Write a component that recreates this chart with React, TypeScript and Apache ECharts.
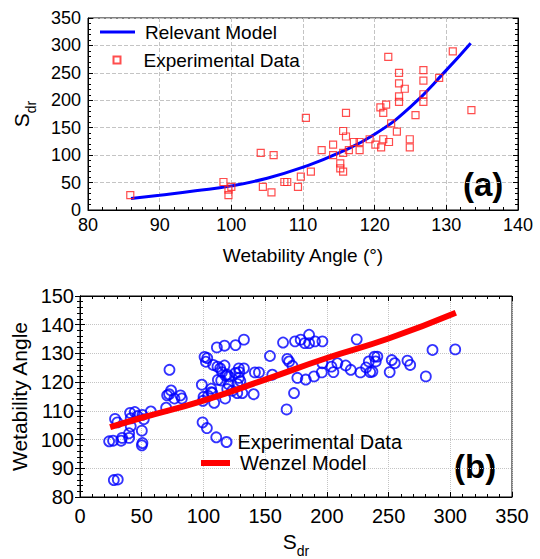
import React, { useEffect, useRef } from "react";
import * as echarts from "echarts";

const FONT = "'Liberation Sans', Arial, Helvetica, sans-serif";

// ---- Chart (a): Sdr vs wetability angle ----
const expA: [number, number][] = [
  [85.9, 27], [98.9, 51], [99.6, 37], [99.6, 27], [100.0, 42], [104.1, 104], [104.4, 42],
  [105.6, 32], [105.9, 100], [107.4, 51], [107.8, 51], [109.3, 42], [109.7, 61], [110.4, 168],
  [111.1, 70], [112.6, 109], [114.2, 119], [114.2, 100], [115.2, 85], [115.2, 76], [115.6, 70],
  [115.6, 104], [115.6, 144], [116.0, 134], [116.0, 177], [116.4, 109], [117.1, 124], [117.9, 124],
  [117.9, 109], [119.3, 129], [120.1, 119], [120.9, 114], [121.2, 129], [122.0, 124], [120.8, 187],
  [121.2, 177], [121.6, 192], [121.9, 279], [122.3, 158], [123.1, 143], [123.4, 250], [123.4, 231],
  [124.2, 221], [123.4, 207], [123.4, 197], [124.9, 129], [124.9, 114], [125.7, 173], [126.8, 255],
  [126.8, 236], [126.8, 211], [126.8, 197], [129.0, 241], [130.9, 289], [133.5, 182],
];
const modelAngle = [86, 90, 95, 100, 105, 110, 115, 120, 125, 130, 133.4];
const modelSdr = [21, 27, 35, 44, 58, 78, 104, 138, 188, 255, 304];
const xTicksA = [80, 140, 10];
const yTicksA = [0, 350, 50];

// ---- Chart (b): wetability angle vs Sdr ----
const expB: [number, number][] = [
  [23.6, 99.4], [26.8, 99.6], [28.4, 107.2], [30.3, 106.0], [33.3, 99.6], [34.1, 100.6], [27.4, 85.9],
  [30.6, 86.1], [39.8, 100.6], [39.8, 102.2], [41.1, 104.6], [40.6, 109.3], [44.4, 109.6], [41.1, 107.4],
  [46.6, 108.2], [51.7, 107.1], [50.6, 108.6], [50.1, 103.1], [50.6, 98.8], [50.1, 98.0], [57.4, 109.8],
  [69.8, 111.1], [70.6, 115.4], [72.2, 115.8], [73.8, 117.1], [72.5, 124.3], [76.5, 114.3], [81.4, 115.4],
  [82.5, 114.3], [98.7, 119.1], [99.3, 106.0], [102.8, 104.0], [100.1, 114.9], [106.3, 117.7],
  [106.3, 116.5], [108.7, 112.8], [100.9, 128.8], [103.1, 128.4], [102.0, 127.1], [110.4, 100.8],
  [110.9, 132.1], [117.1, 132.7], [107.9, 126.0], [111.4, 125.4], [113.6, 124.8], [117.1, 125.8],
  [111.7, 120.8], [114.4, 120.6], [117.6, 114.3], [126.0, 132.9], [132.8, 134.8], [119.3, 122.6],
  [120.6, 122.0], [126.0, 123.2], [128.7, 124.8], [132.8, 124.8], [128.7, 121.5], [127.4, 119.4],
  [120.6, 119.2], [119.3, 117.6], [123.3, 117.0], [127.4, 116.2], [131.5, 116.2], [140.7, 115.8],
  [141.7, 123.4], [145.0, 123.4], [153.9, 129.1], [155.8, 122.6], [164.5, 133.8], [168.0, 128.1],
  [169.4, 127.2], [172.1, 125.7], [167.4, 110.5], [173.4, 116.2], [174.2, 134.2], [178.8, 134.8],
  [182.1, 133.6], [185.6, 136.5], [185.6, 133.6], [190.4, 134.2], [196.4, 134.2], [176.1, 121.5],
  [182.9, 120.9], [189.6, 122.0], [195.9, 123.4], [196.4, 126.6], [203.7, 125.4], [205.3, 123.5],
  [208.5, 126.6], [215.3, 125.8], [219.4, 124.3], [224.2, 134.9], [227.2, 123.4], [231.8, 125.1],
  [234.0, 127.2], [235.1, 123.5], [238.6, 128.9], [236.9, 123.7], [239.6, 127.2], [240.9, 128.9],
  [250.9, 123.5], [252.6, 127.7], [255.0, 126.6], [265.3, 127.5], [267.5, 126.0], [280.2, 122.0],
  [285.6, 131.2], [304.0, 131.4], [129.9, 120.4], [117.9, 122.3], [129.1, 123.5], [115.1, 123.5],
  [107.2, 116.3], [99.6, 113.5], [103.8, 115.2],
];
const wenzelSdr = [24.4, 50, 100, 150, 200, 250, 304.5];
const wenzelAngle = [104.3, 107.6, 113.6, 120.9, 128.4, 135.2, 144.2];
const xTicksB = [0, 350, 50];
const yTicksB = [80, 150, 10];

const subRich = (size: number, sub: number) => ({
  s: { fontSize: size, lineHeight: size + 6, verticalAlign: "top" as const, fontFamily: FONT, color: "#000" },
  sub: { fontSize: sub, lineHeight: sub + 1, verticalAlign: "bottom" as const, fontFamily: FONT, color: "#000" },
});

function mainAxis(ticks: number[], grid: number, fs: number, margin: number, splitType: string, extra: any = {}) {
  return {
    type: "value",
    gridIndex: grid,
    min: ticks[0],
    max: ticks[1],
    interval: ticks[2],
    axisLine: { show: true, lineStyle: { color: "#000", width: 1 } },
    axisTick: { show: true, inside: true, length: 5, lineStyle: { color: "#000" } },
    minorTick: { show: true, splitNumber: 5, length: 3, lineStyle: { color: "#000" } },
    axisLabel: { color: "#000", fontSize: fs, fontFamily: FONT, margin },
    splitLine: { show: true, lineStyle: { color: "#c4c4c4", type: splitType, width: 1 } },
    ...extra,
  };
}

function frameAxis(ticks: number[], grid: number, position: string) {
  return {
    type: "value",
    gridIndex: grid,
    position,
    min: ticks[0],
    max: ticks[1],
    interval: ticks[2],
    axisLine: { show: true, lineStyle: { color: "#000", width: 1 } },
    axisTick: { show: true, inside: true, length: 5, lineStyle: { color: "#000" } },
    minorTick: { show: true, splitNumber: 5, length: 3, lineStyle: { color: "#000" } },
    axisLabel: { show: false },
    splitLine: { show: false },
  };
}

function legendItem(name: string, left: number, top: number, icon: string, w: number, h: number, fs: number, pad: number) {
  return {
    left,
    top,
    padding: 0,
    icon,
    itemWidth: w,
    itemHeight: h,
    selectedMode: false,
    formatter: (n: string) => n.replace(/ \([ab]\)$/, ""),
    textStyle: { fontSize: fs, lineHeight: 20, fontFamily: FONT, color: "#000", padding: [0, 0, 0, pad] },
    data: [name],
  };
}

export default function App() {
  const ref = useRef<HTMLDivElement>(null);
  useEffect(() => {
    if (!ref.current) return;
    const chart = echarts.init(ref.current, null, { renderer: "svg" });
    chart.setOption({
      animation: false,
      backgroundColor: "#fff",
      textStyle: { fontFamily: FONT },
      grid: [
        { left: 88, top: 18, width: 430, height: 192, show: true, borderColor: "#000", borderWidth: 1, backgroundColor: "transparent" },
        { left: 80, top: 296, width: 432, height: 204, show: true, borderColor: "#000", borderWidth: 1, backgroundColor: "transparent" },
      ],
      xAxis: [
        mainAxis(xTicksA, 0, 18, 6, "dashed", {
          name: "Wetability Angle (°)",
          nameLocation: "middle",
          nameGap: 36,
          nameTextStyle: { fontSize: 19, fontFamily: FONT, color: "#000" },
        }),
        mainAxis(xTicksB, 1, 20, 9, "dotted", {
          name: "{s|S}{sub|dr}",
          nameLocation: "middle",
          nameGap: 34,
          nameTextStyle: { rich: subRich(21, 14) },
        }),
        frameAxis(xTicksB, 1, "top"),
      ],
      yAxis: [
        mainAxis(yTicksA, 0, 18, 7, "dashed", {
          name: "{s|S}{sub|dr}",
          nameLocation: "middle",
          nameGap: 50,
          nameTextStyle: { rich: subRich(21, 14) },
        }),
        frameAxis(yTicksA, 0, "right"),
        mainAxis(yTicksB, 1, 20, 6, "dotted", {
          name: "Wetability Angle",
          nameLocation: "middle",
          nameGap: 46,
          nameTextStyle: { fontSize: 21, fontFamily: FONT, color: "#000" },
        }),
        frameAxis(yTicksB, 1, "right"),
      ],
      legend: [
        legendItem("Relevant Model", 100, 22, "rect", 35, 3, 19, 5),
        legendItem("Experimental Data (a)", 112.5, 50, "rect", 7, 7, 19, 18),
        legendItem("Experimental Data (b)", 220.5, 432, "circle", 10, 10, 20, 1),
        legendItem("Wenzel Model", 201, 453, "rect", 29, 6, 20, 5),
      ],
      graphic: [
        { type: "text", left: 463, top: 168, style: { text: "(a)", font: `bold 33px ${FONT}`, fill: "#000" } },
        { type: "text", left: 454, top: 450, style: { text: "(b)", font: `bold 33px ${FONT}`, fill: "#000" } },
      ],
      series: [
        {
          name: "Relevant Model",
          type: "line",
          xAxisIndex: 0,
          yAxisIndex: 0,
          smooth: true,
          symbol: "none",
          lineStyle: { color: "#0000ff", width: 3 },
          itemStyle: { color: "#0000ff" },
          data: modelAngle.map((a, i) => [a, modelSdr[i]]),
          z: 3,
        },
        {
          name: "Experimental Data (a)",
          type: "scatter",
          xAxisIndex: 0,
          yAxisIndex: 0,
          symbol: "rect",
          symbolSize: 7,
          itemStyle: { color: "rgba(0,0,0,0)", borderColor: "#ff2020", borderWidth: 1.2 },
          data: expA,
          z: 4,
        },
        {
          name: "Wenzel Model",
          type: "line",
          xAxisIndex: 1,
          yAxisIndex: 2,
          smooth: true,
          symbol: "none",
          lineStyle: { color: "#ff0000", width: 6 },
          itemStyle: { color: "#ff0000" },
          data: wenzelSdr.map((s, i) => [s, wenzelAngle[i]]),
          z: 4,
        },
        {
          name: "Experimental Data (b)",
          type: "scatter",
          xAxisIndex: 1,
          yAxisIndex: 2,
          symbol: "circle",
          symbolSize: 10,
          itemStyle: { color: "rgba(0,0,0,0)", borderColor: "#0000ff", borderWidth: 1.8 },
          data: expB,
          z: 3,
        },
      ],
    });
    return () => chart.dispose();
  }, []);
  return <div ref={ref} style={{ position: "fixed", left: 0, top: 0, width: 540, height: 559 }} />;
}
